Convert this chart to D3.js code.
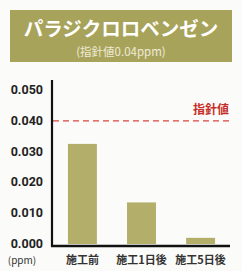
<!DOCTYPE html>
<html>
<head>
<meta charset="utf-8">
<script src="https://cdn.jsdelivr.net/npm/d3@7"></script>
<style>
  body { margin: 0; background: #fbfbf9; }
  svg { display: block; font-family: "Noto Sans CJK JP", "Noto Sans", sans-serif; }
</style>
</head>
<body>
<div id="chart"></div>
<script>
var categories = ['施工前', '施工1日後', '施工5日後'];
var values = [0.0325, 0.0135, 0.002];
var yTicks = [0, 0.01, 0.02, 0.03, 0.04, 0.05];
var guideline = 0.04;

var width = 242, height = 271;

var svg = d3.select('#chart')
  .append('svg')
  .attr('width', width)
  .attr('height', height);

// header box
svg.append('rect')
  .attr('x', 10).attr('y', 10)
  .attr('width', 222).attr('height', 52)
  .attr('fill', '#a8a35b');

svg.append('text')
  .attr('x', 121).attr('y', 36)
  .attr('text-anchor', 'middle')
  .attr('fill', '#ffffff')
  .attr('font-size', 19.5)
  .attr('font-weight', 'bold')
  .text('パラジクロロベンゼン');

svg.append('text')
  .attr('x', 121).attr('y', 56)
  .attr('text-anchor', 'middle')
  .attr('fill', '#eeebd6')
  .attr('font-size', 11.5)
  .text('(指針値0.04ppm)');

var x = d3.scaleBand()
  .domain(categories)
  .range([52, 231])
  .paddingInner(0.51)
  .paddingOuter(0.27);

var y = d3.scaleLinear()
  .domain([0, 0.05])
  .range([244, 90]);

// bars
svg.selectAll('rect.bar')
  .data(values)
  .enter()
  .append('rect')
  .attr('class', 'bar')
  .attr('x', function (d, i) { return x(categories[i]); })
  .attr('y', function (d) { return y(d); })
  .attr('width', x.bandwidth())
  .attr('height', function (d) { return y(0) - y(d); })
  .attr('fill', '#b4ae6b');

// guideline
svg.append('line')
  .attr('x1', 53).attr('x2', 230)
  .attr('y1', y(guideline)).attr('y2', y(guideline))
  .attr('stroke', '#d9453f')
  .attr('stroke-width', 1.3)
  .attr('stroke-dasharray', '6,4');

svg.append('text')
  .attr('x', 229).attr('y', y(guideline) - 7)
  .attr('text-anchor', 'end')
  .attr('fill', '#c52f27')
  .attr('font-size', 12)
  .attr('font-weight', 'bold')
  .text('指針値');

// y axis
svg.selectAll('text.ytick')
  .data(yTicks)
  .enter()
  .append('text')
  .attr('class', 'ytick')
  .attr('x', 43)
  .attr('y', function (d) { return y(d) + 4; })
  .attr('text-anchor', 'end')
  .attr('fill', '#222')
  .attr('font-size', 12.5)
  .attr('font-weight', 'bold')
  .attr('font-family', 'Roboto, sans-serif')
  .text(function (d) { return d3.format('.3f')(d); });

svg.append('line')
  .attr('x1', 52).attr('x2', 52)
  .attr('y1', 80).attr('y2', 247)
  .attr('stroke', '#111')
  .attr('stroke-width', 2.2);

svg.append('line')
  .attr('x1', 51).attr('x2', 230)
  .attr('y1', 246).attr('y2', 246)
  .attr('stroke', '#111')
  .attr('stroke-width', 2.4);

// category labels
svg.selectAll('text.xlab')
  .data(categories)
  .enter()
  .append('text')
  .attr('class', 'xlab')
  .attr('x', function (d) { return x(d) + x.bandwidth() / 2; })
  .attr('y', 264)
  .attr('text-anchor', 'middle')
  .attr('fill', '#333')
  .attr('font-size', 11)
  .attr('font-weight', 'bold')
  .text(function (d) { return d; });

svg.append('text')
  .attr('x', 22).attr('y', 264)
  .attr('text-anchor', 'middle')
  .attr('fill', '#333')
  .attr('font-size', 10)
  .text('(ppm)');
</script>
</body>
</html>
